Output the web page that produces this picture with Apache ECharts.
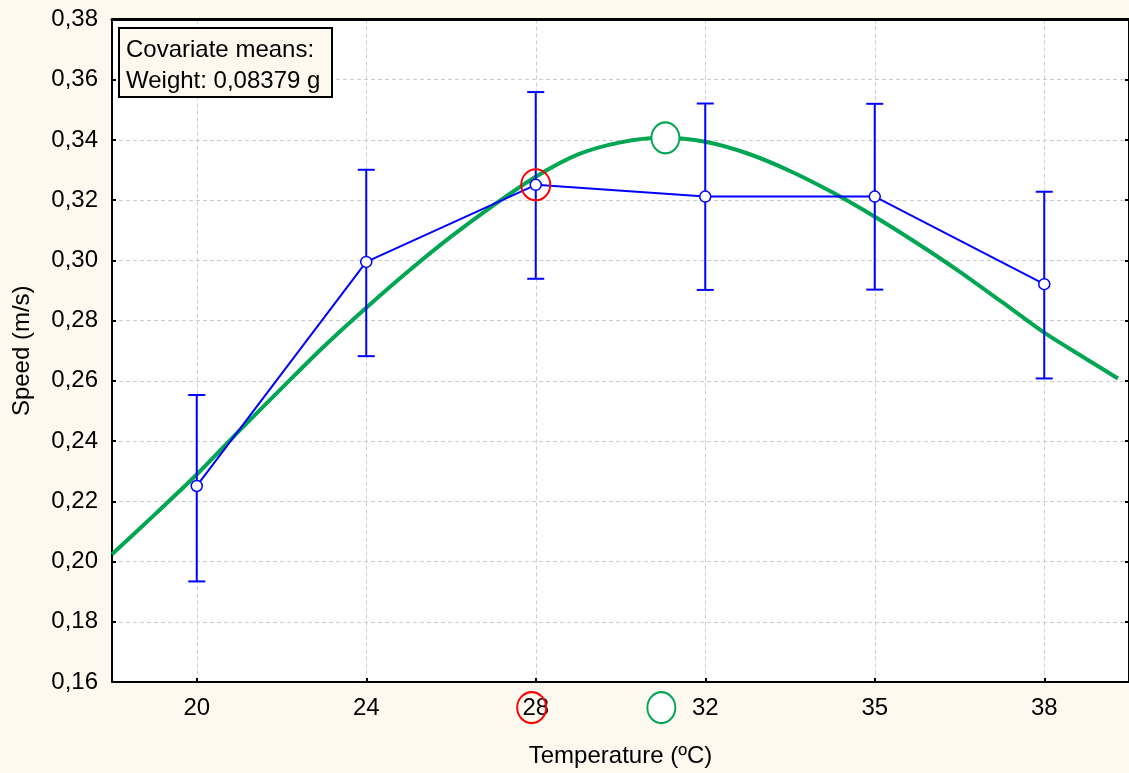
<!DOCTYPE html>
<html>
<head>
<meta charset="utf-8">
<script src="https://cdn.jsdelivr.net/npm/echarts@6/dist/echarts.min.js"></script>
<style>
html,body{margin:0;padding:0;background:#fdf9ef;}
#chart{width:1129px;height:773px;}
</style>
</head>
<body>
<div id="chart"></div>
<script>
// ---- data ----
const categories = ['20', '24', '28', '32', '35', '38'];
const catIndex = [0, 1, 2, 3, 4, 5];
const means = [0.2251, 0.2995, 0.3251, 0.3212, 0.3212, 0.2921];
const upper = [0.2553, 0.3301, 0.3559, 0.3521, 0.3520, 0.3228];
const lower = [0.1934, 0.2682, 0.2939, 0.2902, 0.2903, 0.2608];
// fitted curve (x = category position, y = speed)
const curveX = [-0.5, -0.25, 0, 0.25, 0.5, 0.75, 1, 1.25, 1.5, 1.75, 2, 2.25, 2.5, 2.75, 3, 3.25, 3.5, 3.75, 4, 4.25, 4.5, 4.75, 5, 5.25, 5.435];
const curveY = [0.2024, 0.2155, 0.2289, 0.2434, 0.2575, 0.2714, 0.2843, 0.2965, 0.3079, 0.3183, 0.3278, 0.3352, 0.3392, 0.3407, 0.3394, 0.3355, 0.3297, 0.3226, 0.3145, 0.3057, 0.2963, 0.2862, 0.2760, 0.2672, 0.2608];
// highlighted points
const optimumPoint = [2.765, 0.3407];
const optimumAxisMark = [2.741, 0.1515];
const bestObsPoint = [2, 0.3251];
const bestObsAxisMark = [1.976, 0.1515];
const yTicks = { min: 0.16, max: 0.38, step: 0.02 };
const boxLines = ['Covariate means:', 'Weight: 0,08379 g'];

const FONT = 'Liberation Sans, Arial, sans-serif';
const BLUE = '#0000ff';
const GREEN = '#00a651';
const ellipse = 'path://M0,15.5A14,15.5 0 1,0 28,15.5A14,15.5 0 1,0 0,15.5Z';

const chart = echarts.init(document.getElementById('chart'));
const fmtY = v => v.toFixed(2).replace('.', ',');

chart.setOption({
  backgroundColor: '#fdf9ef',
  animation: false,
  grid: { left: 112, right: -1, top: 19.5, bottom: 90, backgroundColor: '#ffffff', show: true, borderWidth: 0 },
  xAxis: [{
    type: 'value', min: -0.5, max: 5.5,
    name: 'Temperature (ºC)', nameLocation: 'middle', nameGap: 62,
    nameTextStyle: { fontFamily: FONT, fontSize: 24, color: '#000' },
    axisLine: { show: true, onZero: false, lineStyle: { color: '#000', width: 2 } },
    axisTick: { show: true, inside: true, length: 4, customValues: catIndex, lineStyle: { color: '#000', width: 2 } },
    axisLabel: { show: true, margin: 14, customValues: catIndex, fontFamily: FONT, fontSize: 24, color: '#000',
      formatter: v => categories[Math.round(v)] },
    splitLine: { show: true, lineStyle: { color: '#cccccc', type: [4, 3], width: 1 } }
  }, {
    type: 'value', min: -0.5, max: 5.5, position: 'top',
    axisLine: { show: true, onZero: false, lineStyle: { color: '#000', width: 3 } },
    axisTick: { show: false }, axisLabel: { show: false }, splitLine: { show: false }
  }],
  yAxis: [{
    type: 'value', min: yTicks.min, max: yTicks.max, interval: yTicks.step,
    name: 'Speed (m/s)', nameLocation: 'middle', nameGap: 78, nameRotate: 90,
    nameTextStyle: { fontFamily: FONT, fontSize: 24, color: '#000' },
    axisLine: { show: true, onZero: false, lineStyle: { color: '#000', width: 2 } },
    axisTick: { show: true, inside: true, length: 4, lineStyle: { color: '#000', width: 2 } },
    axisLabel: { margin: 14, fontFamily: FONT, fontSize: 24, color: '#000', formatter: fmtY },
    splitLine: { show: true, lineStyle: { color: '#cccccc', type: [4, 3], width: 1 } }
  }, {
    type: 'value', min: yTicks.min, max: yTicks.max, interval: yTicks.step, position: 'right',
    axisLine: { show: true, onZero: false, lineStyle: { color: '#000', width: 2 } },
    axisTick: { show: true, inside: true, length: 4, lineStyle: { color: '#000', width: 2 } },
    axisLabel: { show: false }, splitLine: { show: false }
  }],
  series: [
    {
      type: 'line', name: 'fit', smooth: 0.3, showSymbol: false, z: 3,
      data: curveX.map((x, i) => [x, curveY[i]]),
      lineStyle: { color: GREEN, width: 4 }
    },
    {
      type: 'custom', name: 'errors', z: 4,
      data: catIndex.map((x, i) => [x, lower[i], upper[i]]),
      renderItem: (params, api) => {
        const x = api.value(0);
        const lo = api.coord([x, api.value(1)]);
        const hi = api.coord([x, api.value(2)]);
        const w = 8.5;
        const st = { stroke: BLUE, lineWidth: 2 };
        return { type: 'group', children: [
          { type: 'line', shape: { x1: lo[0], y1: lo[1], x2: hi[0], y2: hi[1] }, style: st },
          { type: 'line', shape: { x1: hi[0] - w, y1: hi[1], x2: hi[0] + w, y2: hi[1] }, style: st },
          { type: 'line', shape: { x1: lo[0] - w, y1: lo[1], x2: lo[0] + w, y2: lo[1] }, style: st }
        ]};
      }
    },
    {
      type: 'line', name: 'means', z: 5,
      data: catIndex.map((x, i) => [x, means[i]]),
      symbol: 'circle', symbolSize: 11,
      lineStyle: { color: BLUE, width: 2 },
      itemStyle: { color: '#ffffff', borderColor: BLUE, borderWidth: 1.5 }
    },
    {
      type: 'scatter', name: 'optimum', z: 6, clip: false,
      data: [optimumPoint, optimumAxisMark],
      symbol: ellipse, symbolSize: [28, 31], symbolKeepAspect: false,
      itemStyle: { color: '#ffffff', borderColor: GREEN, borderWidth: 2, opacity: 1 }
    },
    {
      type: 'scatter', name: 'best', z: 7, clip: false,
      data: [bestObsPoint, bestObsAxisMark],
      symbol: ellipse, symbolSize: [29, 31], symbolKeepAspect: false,
      itemStyle: { color: 'rgba(0,0,0,0)', borderColor: '#ff0000', borderWidth: 2, opacity: 1 }
    }
  ],
  graphic: [{
    type: 'group', left: 118, top: 27, z: 100,
    children: [
      { type: 'rect', z: 100, shape: { x: 0, y: 0, width: 213, height: 69 },
        style: { fill: '#fdf9ef', stroke: '#000', lineWidth: 2 } },
      { type: 'text', z: 101, x: 7, y: 22, style: { text: boxLines[0], font: '24px ' + FONT, fill: '#000', verticalAlign: 'middle' } },
      { type: 'text', z: 101, x: 7, y: 53, style: { text: boxLines[1], font: '24px ' + FONT, fill: '#000', verticalAlign: 'middle' } }
    ]
  }]
});
</script>
</body>
</html>
